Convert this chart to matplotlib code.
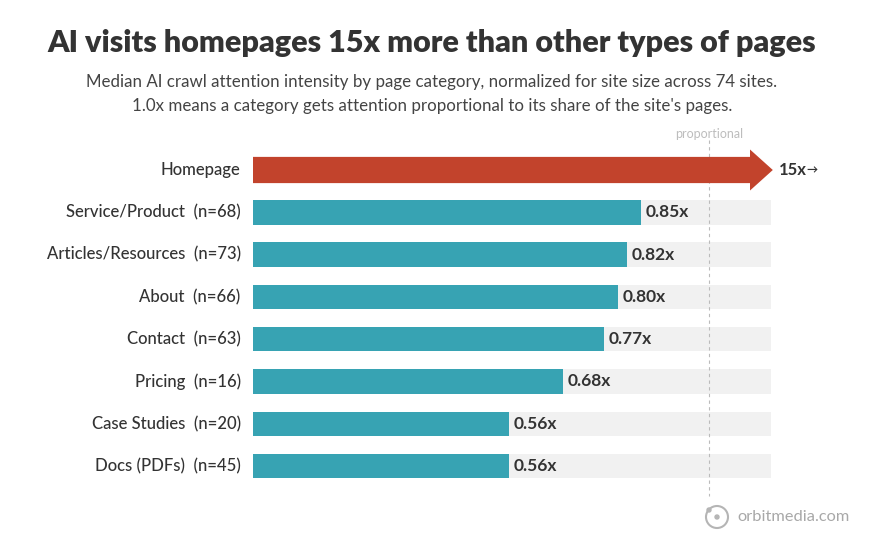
import numpy as np
import matplotlib.pyplot as plt
from matplotlib.patches import FancyArrow, Ellipse

categories = ['Homepage', 'Service/Product  (n=68)', 'Articles/Resources  (n=73)', 'About  (n=66)',
              'Contact  (n=63)', 'Pricing  (n=16)', 'Case Studies  (n=20)', 'Docs (PDFs)  (n=45)']
values = [15, 0.85, 0.82, 0.80, 0.77, 0.68, 0.56, 0.56]
value_labels = ['15x', '0.85x', '0.82x', '0.80x', '0.77x', '0.68x', '0.56x', '0.56x']
proportional = 1.0

W, H = 875, 544
fig = plt.figure(figsize=(W / 100, H / 100), dpi=100)
fig.patch.set_facecolor('white')
plt.rcParams['font.family'] = ['Lato', 'DejaVu Sans']

xmax = 1.135
row = 42.3
top = 170 - row / 2
ax = fig.add_axes([253 / W, 1 - (top + 8 * row) / H, (771 - 253) / W, 8 * row / H])
ax.set_xlim(0, xmax)
ax.set_ylim(7.5, -0.5)
ax.axis('off')

teal = '#37a3b3'
red = '#c2432c'
bh = 0.58

for i, (c, v, lab) in enumerate(zip(categories, values, value_labels)):
    ax.text(-0.027, i, c, ha='right', va='center', fontsize=12, color='#333333',
            fontweight='medium', clip_on=False)
    if v > xmax:
        # off the scale: draw as an arrow running past the end
        ax.add_patch(FancyArrow(0, i, xmax + 0.004, 0, width=0.62, head_width=0.97,
                                head_length=0.05, length_includes_head=True,
                                color=red, lw=0, clip_on=False, zorder=3))
        ax.text(xmax + 0.018, i, lab, ha='left', va='center', fontsize=12,
                fontweight='bold', color='#333333', clip_on=False)
        ax.text(xmax + 0.078, i, '\u2192', ha='left', va='center', fontsize=8,
                fontweight='bold', color='#333333', clip_on=False)
    else:
        ax.barh(i, xmax, height=bh, color='#f1f1f1', zorder=1)
        ax.barh(i, v, height=bh, color=teal, zorder=2)
        ax.text(v + 0.01, i, lab, ha='left', va='center', fontsize=12.5,
                fontweight='bold', color='#333333', zorder=4)

ax.plot([proportional, proportional], [-0.7, 7.7], ls=(0, (3, 3)), lw=0.8,
        color='#bbbbbb', clip_on=False, zorder=2.5)
ax.text(proportional, -0.72, 'proportional', ha='center', va='bottom', fontsize=9,
        color='#bdbdbd', clip_on=False)

fig.text(432 / W, 1 - 43 / H, 'AI visits homepages 15x more than other types of pages',
         ha='center', va='center', fontsize=22, fontweight='heavy', color='#333333')
fig.text(432 / W, 1 - 82 / H,
         'Median AI crawl attention intensity by page category, normalized for site size across 74 sites.',
         ha='center', va='center', fontsize=12.2, color='#444444')
fig.text(432 / W, 1 - 106 / H,
         "1.0x means a category gets attention proportional to its share of the site's pages.",
         ha='center', va='center', fontsize=12.2, color='#444444')

# logo
cx, cy = 717, 517
fig.add_artist(Ellipse((cx / W, 1 - cy / H), 22 / W, 22 / H, transform=fig.transFigure,
                       fill=False, ec='#b5b5b5', lw=1.5))
fig.add_artist(Ellipse((cx / W, 1 - cy / H), 4 / W, 4 / H, transform=fig.transFigure,
                       color='#b5b5b5'))
fig.add_artist(Ellipse(((cx - 8) / W, 1 - (cy - 7) / H), 4 / W, 4 / H,
                       transform=fig.transFigure, color='#b5b5b5'))
fig.text(737 / W, 1 - cy / H, 'orbitmedia.com', ha='left', va='center', fontsize=11.8,
         color='#a8a8a8')

fig.savefig('out.png', dpi=100, facecolor='white')
